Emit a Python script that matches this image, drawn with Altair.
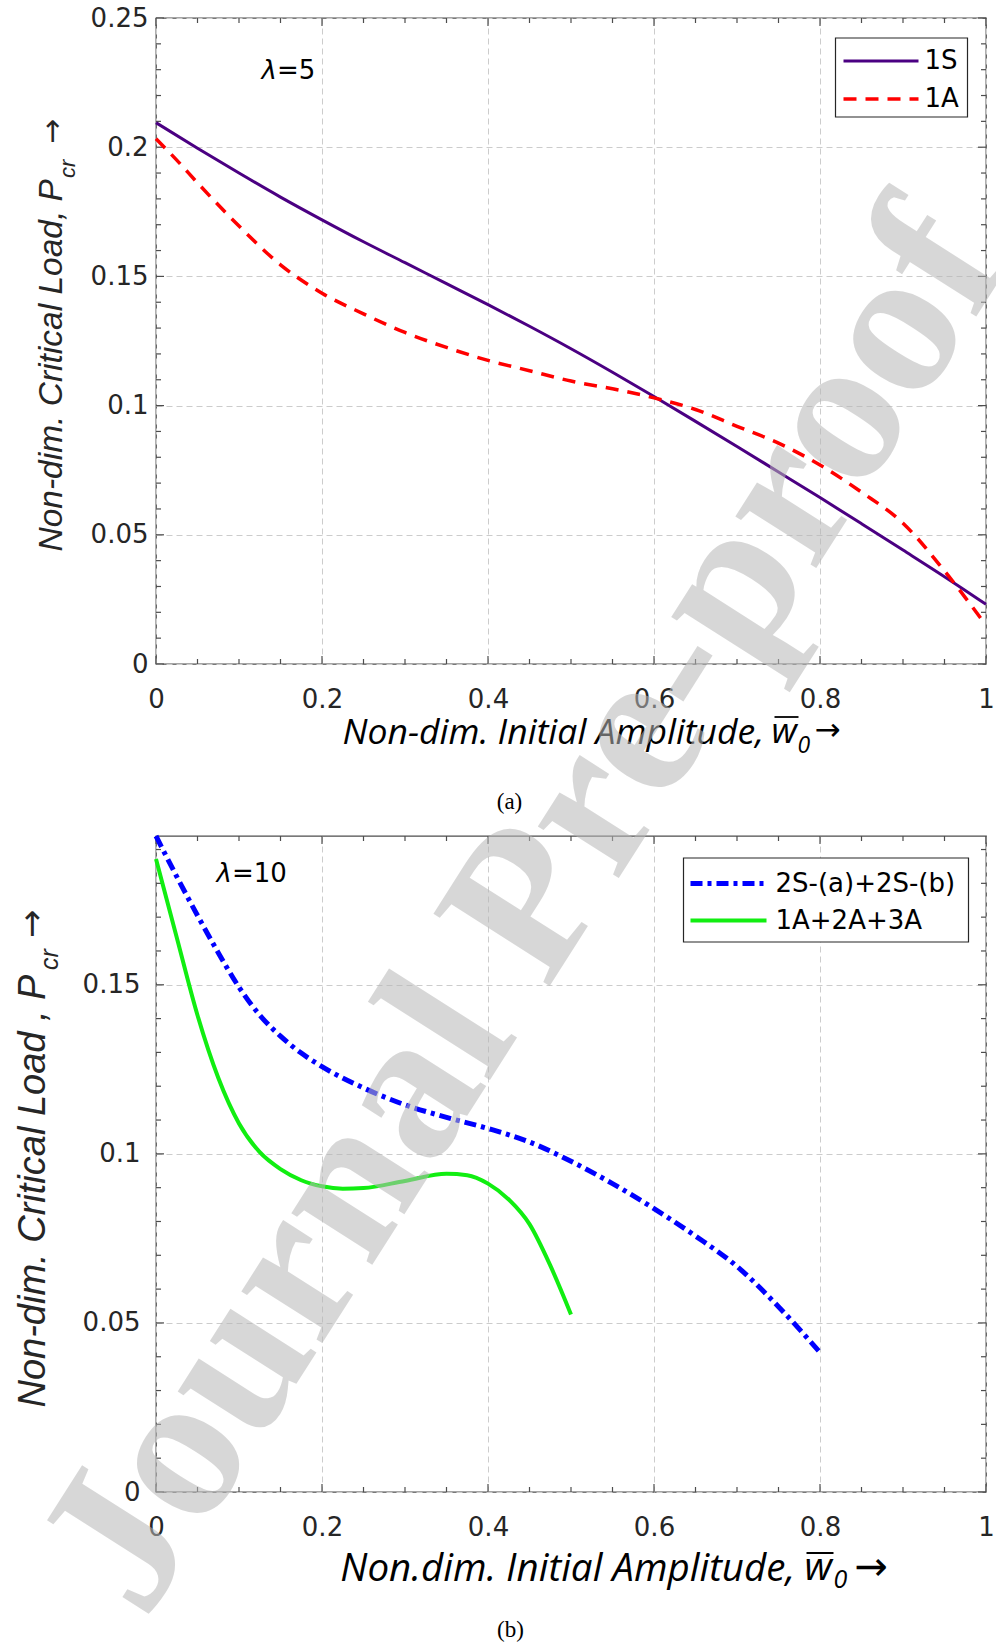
import altair as alt
import pandas as pd

# ---------------- data ----------------
# panel (a): lambda = 5
x_1s = [0, 0.05, 0.1, 0.15, 0.2, 0.25, 0.3, 0.35, 0.4, 0.45, 0.5, 0.55, 0.6, 0.65, 0.7,
        0.75, 0.8, 0.85, 0.9, 0.95, 1.0]
y_1s = [0.2095, 0.1996, 0.1900, 0.1807, 0.1719, 0.1634, 0.1553, 0.1472, 0.1391, 0.1307,
        0.1220, 0.1129, 0.1035, 0.0939, 0.0842, 0.0743, 0.0644, 0.0543, 0.0441, 0.0338, 0.0231]
x_1a = [0, 0.025, 0.05, 0.1, 0.15, 0.2, 0.25, 0.3, 0.35, 0.4, 0.45, 0.5, 0.55, 0.6, 0.65,
        0.7, 0.75, 0.8, 0.85, 0.9, 0.95, 1.0]
y_1a = [0.2033, 0.1950, 0.1862, 0.1695, 0.1545, 0.1435, 0.1355, 0.1283, 0.1225, 0.1175,
        0.1135, 0.1095, 0.1065, 0.1030, 0.0985, 0.0920, 0.0855, 0.0770, 0.0665, 0.0545,
        0.0360, 0.0150]
# panel (b): lambda = 10
x_2s = [0, 0.025, 0.05, 0.075, 0.1, 0.125, 0.15, 0.175, 0.2, 0.25, 0.3, 0.35, 0.4, 0.45,
        0.5, 0.55, 0.6, 0.65, 0.7, 0.75, 0.8]
y_2s = [0.1940, 0.1820, 0.1705, 0.1595, 0.1493, 0.1410, 0.1348, 0.1298, 0.1258, 0.1195,
        0.1145, 0.1108, 0.1075, 0.1035, 0.0978, 0.0912, 0.0838, 0.0757, 0.0667, 0.0548, 0.0413]
x_3a = [0, 0.025, 0.05, 0.075, 0.1, 0.125, 0.15, 0.175, 0.2, 0.225, 0.25, 0.3, 0.35,
        0.375, 0.4, 0.425, 0.45, 0.475, 0.5]
y_3a = [0.1872, 0.1640, 0.1410, 0.1225, 0.1090, 0.1005, 0.0955, 0.0922, 0.0904, 0.0897,
        0.0899, 0.0920, 0.0941, 0.0937, 0.0912, 0.0865, 0.0792, 0.0670, 0.0525]

x_major = [0, 0.2, 0.4, 0.6, 0.8, 1.0]
x_minor = [0.05, 0.1, 0.15, 0.25, 0.3, 0.35, 0.45, 0.5, 0.55, 0.65, 0.7, 0.75, 0.85, 0.9, 0.95]
y1_major = [0, 0.05, 0.1, 0.15, 0.2, 0.25]
y1_minor = [0.01, 0.02, 0.03, 0.04, 0.06, 0.07, 0.08, 0.09, 0.11, 0.12, 0.13, 0.14,
            0.16, 0.17, 0.18, 0.19, 0.21, 0.22, 0.23, 0.24]
y2_major = [0, 0.05, 0.1, 0.15]
y2_minor = [0.01, 0.02, 0.03, 0.04, 0.06, 0.07, 0.08, 0.09, 0.11, 0.12, 0.13, 0.14,
            0.16, 0.17, 0.18, 0.19]

labels_a = ["1S", "1A"]
labels_b = ["2S-(a)+2S-(b)", "1A+2A+3A"]

# ---------------- styling ----------------
W = 830
H1, H2 = 646, 656
PL, T1, T2 = 156.5, 17, 835          # absolute plot origins (for annotation offsets)
FRAME = "#4d4d4d"
TXT = "#262626"
C_1S, C_1A, C_2S, C_3A = "#4B0082", "#ff0000", "#0000ff", "#11ee11"
XT_FONT = "Open Sans"

xs = alt.Scale(domain=[0, 1], nice=False, zero=False)
ys1 = alt.Scale(domain=[0, 0.25], nice=False)
ys2 = alt.Scale(domain=[0, 0.194], nice=False)


def x_axis(title, tx, ty, size, pad):
    return alt.Axis(values=x_major, format="~g", labelFont="DejaVu Sans", labelFontSize=26,
                    labelColor=TXT, labelPadding=pad, labelFlush=False, labelOverlap=False,
                    ticks=False, domain=False, grid=True, gridColor="#cccccc",
                    gridDash=[6, 4], gridWidth=1, title=title, titleFont=XT_FONT,
                    titleFontStyle="italic", titleFontWeight="normal", titleFontSize=size,
                    titleColor="#000000", titleAlign="right", titleBaseline="alphabetic",
                    titleX=tx, titleY=ty)


def y_axis(vals, title, tx, ty, size, pad):
    return alt.Axis(values=vals, format="~g", labelFont="DejaVu Sans", labelFontSize=26,
                    labelColor=TXT, labelPadding=pad, labelFlush=False, labelOverlap=False,
                    ticks=False, domain=False, grid=True, gridColor="#cccccc",
                    gridDash=[6, 4], gridWidth=1, title=title, titleFont="Liberation Sans",
                    titleFontStyle="italic", titleFontWeight="normal", titleFontSize=size,
                    titleColor=TXT, titleAngle=270, titleAlign="left",
                    titleBaseline="alphabetic", titleX=tx, titleY=ty)


def curve(xv, yv, xa, ya, ysc, color, width, dash=None):
    kw = dict(color=color, strokeWidth=width, interpolate="monotone", strokeCap="butt")
    if dash:
        kw["strokeDash"] = dash
    return alt.Chart(pd.DataFrame({"x": xv, "y": yv})).mark_line(**kw).encode(
        x=alt.X("x:Q", scale=xs, axis=xa), y=alt.Y("y:Q", scale=ysc, axis=ya))


def ticks(xa, ya, ysc, ymaj, ymin, H):
    layers = []
    for vals, ln in ((x_major, 8), (x_minor, 5)):
        d = pd.DataFrame({"x": vals})
        layers.append(alt.Chart(d).mark_rule(color=FRAME, strokeWidth=1.2).encode(
            x=alt.X("x:Q", scale=xs, axis=xa), y=alt.value(H), y2=alt.value(H - ln)))
        layers.append(alt.Chart(d).mark_rule(color=FRAME, strokeWidth=1.2).encode(
            x=alt.X("x:Q", scale=xs, axis=xa), y=alt.value(0), y2=alt.value(ln)))
    for vals, ln in ((ymaj, 8), (ymin, 5)):
        d = pd.DataFrame({"y": vals})
        layers.append(alt.Chart(d).mark_rule(color=FRAME, strokeWidth=1.2).encode(
            y=alt.Y("y:Q", scale=ysc, axis=ya), x=alt.value(0), x2=alt.value(ln)))
        layers.append(alt.Chart(d).mark_rule(color=FRAME, strokeWidth=1.2).encode(
            y=alt.Y("y:Q", scale=ysc, axis=ya), x=alt.value(W), x2=alt.value(W - ln)))
    return layers


def txt(text, x, y, size, font="DejaVu Sans", style="normal", weight="normal",
        color="#000000", align="left", baseline="middle", angle=0, opacity=1.0):
    return alt.Chart(pd.DataFrame({"t": [text]})).mark_text(
        text=text, font=font, fontSize=size, fontStyle=style, fontWeight=weight,
        color=color, align=align, baseline=baseline, angle=angle, opacity=opacity
    ).encode(x=alt.value(x), y=alt.value(y))


def hline(x1, x2, y, color, width, dash=None):
    kw = dict(color=color, strokeWidth=width, strokeCap="butt")
    if dash:
        kw["strokeDash"] = dash
    return alt.Chart(pd.DataFrame({"a": [0]})).mark_rule(**kw).encode(
        x=alt.value(x1), x2=alt.value(x2), y=alt.value(y))


def box(x1, x2, y1, y2):
    return alt.Chart(pd.DataFrame({"a": [0]})).mark_rect(
        fill="white", stroke="#262626", strokeWidth=1.2).encode(
        x=alt.value(x1), x2=alt.value(x2), y=alt.value(y1), y2=alt.value(y2))


# ---------------- panel (a) ----------------
xa1 = x_axis("Non-dim. Initial Amplitude,", 764 - PL, 742 - (T1 + H1), 35.5, 22)
ya1 = y_axis(y1_major, "Non-dim. Critical Load, P", 62 - PL, 550 - T1, 33.5, 8)

layers_a = ticks(xa1, ya1, ys1, y1_major, y1_minor, H1)
layers_a += [
    curve(x_1s, y_1s, xa1, ya1, ys1, C_1S, 3),
    curve(x_1a, y_1a, xa1, ya1, ys1, C_1A, 3.5, [13, 9]),
    # legend
    box(836 - PL, 968 - PL, 37 - T1, 116 - T1),
    hline(844 - PL, 919 - PL, 60 - T1, C_1S, 3),
    hline(844 - PL, 919 - PL, 98 - T1, C_1A, 3.5, [13, 9]),
    txt(labels_a[0], 925 - PL, 60 - T1, 26),
    txt(labels_a[1], 925 - PL, 98 - T1, 26),
    # lambda label
    txt("λ", 262 - PL, 70 - T1, 26, style="italic"),
    txt("=5", 277.5 - PL, 70 - T1, 26),
    # y-title subscript + arrow
    txt("cr", 75 - PL, 177 - T1, 22, font="Liberation Sans", style="italic",
        color=TXT, baseline="alphabetic", angle=270),
    txt("→", 53 - PL, 143 - T1, 30, color=TXT, angle=270),
    # x-title w-bar, subscript, arrow
    txt("w", 772 - PL, 742 - T1, 35.5, font=XT_FONT, style="italic", baseline="alphabetic"),
    hline(775 - PL, 799 - PL, 716 - T1, "#000000", 1.8),
    txt("0", 798 - PL, 752 - T1, 23, font=XT_FONT, style="italic", baseline="alphabetic"),
    txt("→", 815 - PL, 730 - T1, 31),
    # caption
    txt("(a)", 510 - PL, 801 - T1, 23, font="Liberation Serif", align="center"),
]
panel_a = alt.layer(*layers_a).properties(width=W, height=H1)

# ---------------- panel (b) ----------------
xa2 = x_axis("Non.dim. Initial Amplitude,", 795 - PL, 1579 - (T2 + H2), 38.5, 22)
ya2 = y_axis(y2_major, "Non-dim. Critical Load , P", 45 - PL, 1406 - T2, 38, 16)

layers_b = ticks(xa2, ya2, ys2, y2_major, y2_minor, H2)
layers_b += [
    curve(x_2s, y_2s, xa2, ya2, ys2, C_2S, 5, [12, 5, 4, 5]),
    curve(x_3a, y_3a, xa2, ya2, ys2, C_3A, 4),
    # legend
    box(684 - PL, 969 - PL, 857 - T2, 941 - T2),
    hline(691 - PL, 767 - PL, 882.5 - T2, C_2S, 5, [12, 5, 4, 5]),
    hline(691 - PL, 767 - PL, 919.5 - T2, C_3A, 4),
    txt(labels_b[0], 776 - PL, 882.5 - T2, 26),
    txt(labels_b[1], 776 - PL, 919.5 - T2, 26),
    # lambda label
    txt("λ", 217 - PL, 873 - T2, 26, style="italic"),
    txt("=10", 232.5 - PL, 873 - T2, 26),
    # y-title subscript + arrow
    txt("cr", 58 - PL, 969 - T2, 25, font="Liberation Sans", style="italic",
        color=TXT, baseline="alphabetic", angle=270),
    txt("→", 33 - PL, 937 - T2, 34, color=TXT, angle=270),
    # x-title w-bar, subscript, arrow
    txt("w", 805 - PL, 1579 - T2, 38.5, font=XT_FONT, style="italic", baseline="alphabetic"),
    hline(807 - PL, 834 - PL, 1552 - T2, "#000000", 2),
    txt("0", 834 - PL, 1587 - T2, 25, font=XT_FONT, style="italic", baseline="alphabetic"),
    txt("→", 855 - PL, 1567 - T2, 40),
    # caption
    txt("(b)", 511 - PL, 1629 - T2, 23, font="Liberation Serif", align="center"),
    # watermark (drawn last so it lies over both panels)
    txt("Journal Pre-proof", 525 - PL, 907.5 - T2, 209, font="Liberation Serif",
        weight="bold", color="#b8b8b8", align="center", angle=302.5, opacity=0.55),
]
panel_b = alt.layer(*layers_b).properties(width=W, height=H2)

chart = alt.vconcat(panel_a, panel_b, spacing=T2 - T1 - H1, bounds="flush").properties(
    padding={"left": 3, "top": 4, "right": -51, "bottom": -3},
    background="white",
).configure_view(stroke=FRAME, strokeWidth=1.3)

chart.save("out.html", embed_options={"renderer": "svg", "actions": False})
